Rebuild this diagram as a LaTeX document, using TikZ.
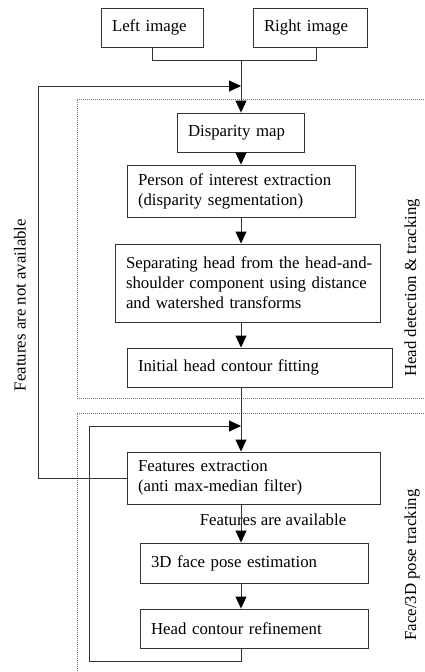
\documentclass[tikz,border=0pt]{standalone}
\usepackage{fontspec}
\setmainfont{Liberation Serif}
\usetikzlibrary{arrows.meta,calc}
\begin{document}
\begin{tikzpicture}[x=1pt,y=-1pt,
  txt/.style={font=\fontsize{16.8}{20}\selectfont},
  box/.style={txt,draw=black!80,line width=0.9pt,align=left,inner xsep=11pt,inner ysep=0pt,
              text width=#1-22pt,minimum width=#1,anchor=center},
  line/.style={draw=black!80,line width=0.9pt},
  arr/.style={line,-{Triangle[length=12pt,width=11pt,color=black]}},
  region/.style={draw=black!55,line width=0.6pt,dash pattern=on 1pt off 1pt}]
\useasboundingbox (0,0) rectangle (424,672);
% regions
\draw[region] (424,99) -- (77,99) -- (77,398) -- (424,398);
\draw[region] (424,413) -- (77,413) -- (77,672);
% nodes
\node[box=102pt,minimum height=39pt] (left) at (152,27.5) {Left image};
\node[box=114pt,minimum height=39pt] (right) at (310,27.5) {Right image};
\node[box=127pt,minimum height=39pt] (disp) at (240.5,132.5) {Disparity map};
\node[box=228pt,minimum height=52pt] (poi) at (241,191) {\mbox{Person of interest extraction}\\\mbox{(disparity segmentation)}};
\node[box=265pt,minimum height=78pt] (sep) at (247.5,283) {\mbox{Separating head from the head-and-}\\\mbox{shoulder component using distance}\\\mbox{and watershed transforms}};
\node[box=265pt,minimum height=39pt] (init) at (259.5,367.5) {Initial head contour fitting};
\node[box=253pt,minimum height=52pt] (feat) at (253.5,478) {\mbox{Features extraction}\\\mbox{(anti max-median filter)}};
\node[box=228pt,minimum height=40pt] (pose) at (254,563) {3D face pose estimation};
\node[box=228pt,minimum height=39pt] (refine) at (254,628.5) {Head contour refinement};
% labels
\node[txt,rotate=90] (lna) at (20,305) {Features are not available};
\node[txt,rotate=90] (lhd) at (412,288) {Head detection \& tracking};
\node[txt,rotate=90] (lfp) at (412,565) {Face/3D pose tracking};
\node[txt] (lfa) at (273,520) {Features are available};
% coordinates
\coordinate (mx) at (241,0);
\coordinate (merge) at (241,60);
\coordinate (rj) at (316,60);
\coordinate (fbA) at (38,86);
\coordinate (fbTip) at (241,86);
\coordinate (fb2c) at (89,661);
\coordinate (fb2tip) at (241,426);
% connectors
\draw[line] (left.south) |- (rj) -- (rj |- right.south);
\draw[arr] (merge) -- (disp.north -| mx);
\draw[arr] (feat.west) -| (fbA) -- (fbTip);
\draw[arr] (disp.south -| mx) -- (poi.north -| mx);
\draw[arr] (poi.south -| mx) -- (sep.north -| mx);
\draw[arr] (sep.south -| mx) -- (init.north -| mx);
\draw[arr] (init.south -| mx) -- (feat.north -| mx);
\draw[arr] (feat.south -| mx) -- (pose.north -| mx);
\draw[arr] (pose.south -| mx) -- (refine.north -| mx);
\draw[arr] (refine.south -| mx) |- (fb2c) |- (fb2tip);
\end{tikzpicture}
\end{document}
